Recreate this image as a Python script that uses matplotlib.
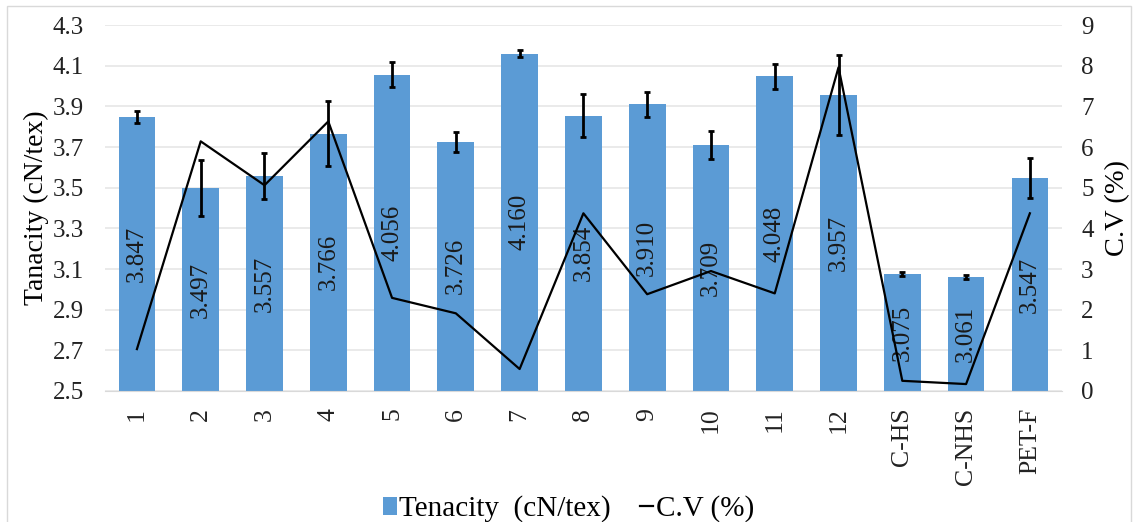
import matplotlib
matplotlib.use("Agg")
import matplotlib.pyplot as plt
from matplotlib.patches import Patch, Rectangle
from matplotlib.lines import Line2D

samples = ["1", "2", "3", "4", "5", "6", "7", "8", "9", "10", "11", "12",
           "C-HS", "C-NHS", "PET-F"]
tenacity = [3.847, 3.497, 3.557, 3.766, 4.056, 3.726, 4.160, 3.854, 3.910,
            3.709, 4.048, 3.957, 3.075, 3.061, 3.547]
tenacity_err = [0.029, 0.137, 0.115, 0.159, 0.061, 0.048, 0.018, 0.107, 0.061,
                0.070, 0.062, 0.198, 0.008, 0.008, 0.100]
cv = [1.03, 6.14, 5.06, 6.63, 2.29, 1.91, 0.54, 4.37, 2.38, 2.95, 2.40, 7.96,
      0.25, 0.17, 4.37]

plt.rcParams['font.family'] = ['Liberation Serif', 'DejaVu Serif']
fs = 18
bar_color = '#5b9bd5'

fig = plt.figure(figsize=(11.38, 5.22), dpi=100)
ax = fig.add_axes([0.0923, 0.251, 0.8407, 0.701])
x = list(range(len(samples)))

ax.bar(x, [v - 2.5 for v in tenacity], bottom=2.5, width=0.575,
       color=bar_color, zorder=2)
ax.errorbar(x, tenacity, yerr=tenacity_err, fmt='none', ecolor='black',
            elinewidth=2, capsize=2, capthick=2, zorder=3)
# value labels sit in the middle of each bar
for i, v in enumerate(tenacity):
    ax.text(i, (2.5 + v) / 2, f"{v:.3f}", rotation=90, ha='center',
            va='center', fontsize=fs, color='#1a1a1a', zorder=4)

ax.set_xlim(-0.5, len(samples) - 0.5)
ax.set_ylim(2.5, 4.3)
ax.set_yticks([2.5 + 0.2 * k for k in range(10)])
ax.set_yticklabels([f"{2.5 + 0.2 * k:.1f}" for k in range(10)], fontsize=fs)
ax.set_xticks(x)
ax.set_xticklabels(samples, rotation=90, fontsize=18.5)
ax.set_ylabel("Tanacity (cN/tex)", fontsize=20, labelpad=3)
ax.yaxis.grid(True, color='#e6e6e6', linewidth=1.2, zorder=0)
ax.set_axisbelow(True)
for s in ax.spines.values():
    s.set_visible(False)
ax.spines['bottom'].set_visible(True)
ax.spines['bottom'].set_color('#d9d9d9')
ax.tick_params(axis='y', length=0, pad=15, colors='#222222')
ax.tick_params(axis='x', length=0, pad=12, colors='#222222')

ax2 = ax.twinx()
ax2.plot(x, cv, color='black', linewidth=1.6, zorder=5)
ax2.set_ylim(0, 9)
ax2.set_yticks(range(10))
ax2.set_yticklabels([str(k) for k in range(10)], fontsize=fs)
ax2.set_ylabel("C.V (%)", fontsize=20.5, labelpad=8)
for s in ax2.spines.values():
    s.set_visible(False)
ax2.tick_params(axis='y', length=0, pad=14, colors='#222222')

handles = [Patch(facecolor=bar_color, edgecolor='none'),
           Line2D([], [], color='black', linewidth=1.6)]
fig.legend(handles, ["Tenacity  (cN/tex)", "C.V (%)"], loc='center',
           bbox_to_anchor=(0.5, 0.025), ncol=2, frameon=False, fontsize=21,
           handlelength=0.45, handleheight=0.6, handletextpad=0.1,
           columnspacing=1.0)

fig.patches.append(Rectangle((0.006, -0.01), 0.988, 0.998,
                             transform=fig.transFigure, fill=False,
                             edgecolor='#d9d9d9', linewidth=1))

fig.savefig("out.png", dpi=100)
